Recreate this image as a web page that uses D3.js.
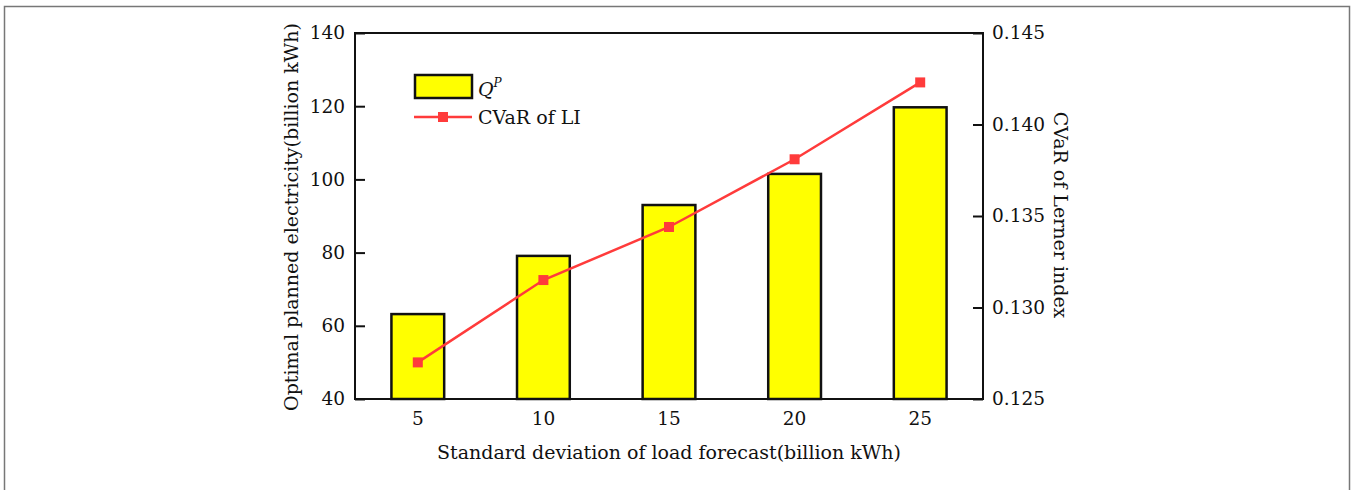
<!DOCTYPE html>
<html>
<head>
<meta charset="utf-8">
<script src="https://cdn.jsdelivr.net/npm/d3@7"></script>
<style>
  html, body { margin: 0; padding: 0; background: #fff; }
  svg text { font-family: "DejaVu Serif", "Liberation Serif", serif; fill: #111; }
</style>
</head>
<body>
<div id="chart"></div>
<script>
// Data
const categories = ['5', '10', '15', '20', '25'];
const plannedQ = [63.2, 79.1, 93.0, 101.5, 119.7];
const cvarLI = [0.1270, 0.1315, 0.1344, 0.1381, 0.1423];
const leftTicks = [40, 60, 80, 100, 120, 140];
const rightTicks = [0.125, 0.130, 0.135, 0.140, 0.145];

const W = 1352, H = 490;
const plot = { left: 355, right: 983, top: 33, bottom: 399 };
const serif = '"DejaVu Serif", "Liberation Serif", serif';

const svg = d3.select('#chart').append('svg')
  .attr('width', W)
  .attr('height', H);

// outer page border
svg.append('rect')
  .attr('x', 4.5).attr('y', 6.5)
  .attr('width', 1345).attr('height', 520)
  .attr('fill', 'none')
  .attr('stroke', '#777')
  .attr('stroke-width', 1.5);

const x = d3.scaleBand().domain(categories).range([plot.left, plot.right]).padding(0);
const yL = d3.scaleLinear().domain([40, 140]).range([plot.bottom, plot.top]);
const yR = d3.scaleLinear().domain([0.125, 0.145]).range([plot.bottom, plot.top]);
const barW = x.bandwidth() * 0.42;
const cx = d => x(d) + x.bandwidth() / 2;

// Bars
svg.append('g')
  .selectAll('rect')
  .data(categories.map((c, i) => ({ c, v: plannedQ[i] })))
  .join('rect')
  .attr('x', d => cx(d.c) - barW / 2)
  .attr('y', d => yL(d.v))
  .attr('width', barW)
  .attr('height', d => yL(40) - yL(d.v))
  .attr('fill', '#ffff00')
  .attr('stroke', '#111')
  .attr('stroke-width', 2.5);

// Frame
svg.append('rect')
  .attr('x', plot.left).attr('y', plot.top)
  .attr('width', plot.right - plot.left)
  .attr('height', plot.bottom - plot.top)
  .attr('fill', 'none')
  .attr('stroke', '#111')
  .attr('stroke-width', 2);

// Left axis (ticks inward)
const axL = svg.append('g')
  .attr('transform', `translate(${plot.left},0)`)
  .call(d3.axisLeft(yL).tickValues(leftTicks).tickSizeInner(-10).tickSizeOuter(0).tickPadding(10));
axL.select('.domain').remove();
axL.selectAll('line').attr('stroke', '#111').attr('stroke-width', 2);
axL.selectAll('text').style('font-size', '18.5px').attr('fill', '#111').attr('font-family', serif);

// Right axis (ticks inward)
const axR = svg.append('g')
  .attr('transform', `translate(${plot.right},0)`)
  .call(d3.axisRight(yR).tickValues(rightTicks).tickFormat(d3.format('.3f'))
    .tickSizeInner(-10).tickSizeOuter(0).tickPadding(9));
axR.select('.domain').remove();
axR.selectAll('line').attr('stroke', '#111').attr('stroke-width', 2);
axR.selectAll('text').style('font-size', '18.5px').attr('fill', '#111').attr('font-family', serif);

// Bottom axis labels
const axB = svg.append('g')
  .attr('transform', `translate(0,${plot.bottom})`)
  .call(d3.axisBottom(x).tickSize(0).tickPadding(13));
axB.select('.domain').remove();
axB.selectAll('text').style('font-size', '18.5px').attr('fill', '#111').attr('font-family', serif);

// Axis titles
svg.append('text')
  .attr('x', 669)
  .attr('y', 459)
  .attr('text-anchor', 'middle')
  .style('font-size', '19px')
  .text('Standard deviation of load forecast(billion kWh)');

svg.append('text')
  .attr('transform', `translate(298,217) rotate(-90)`)
  .attr('text-anchor', 'middle')
  .style('font-size', '19px')
  .text('Optimal planned electricity(billion kWh)');

svg.append('text')
  .attr('transform', `translate(1054,215) rotate(90)`)
  .attr('text-anchor', 'middle')
  .style('font-size', '19px')
  .text('CVaR of Lerner index');

// CVaR line
const line = d3.line().x(d => cx(d.c)).y(d => yR(d.v));
const pts = categories.map((c, i) => ({ c, v: cvarLI[i] }));
svg.append('path')
  .datum(pts)
  .attr('d', line)
  .attr('fill', 'none')
  .attr('stroke', '#ff3b3b')
  .attr('stroke-width', 2.5);
svg.append('g')
  .selectAll('rect')
  .data(pts)
  .join('rect')
  .attr('x', d => cx(d.c) - 5)
  .attr('y', d => yR(d.v) - 5)
  .attr('width', 10).attr('height', 10)
  .attr('fill', '#ff3b3b');

// Legend
const lg = svg.append('g');
lg.append('rect')
  .attr('x', 415).attr('y', 75)
  .attr('width', 57).attr('height', 23)
  .attr('fill', '#ffff00')
  .attr('stroke', '#111')
  .attr('stroke-width', 2.5);
const qt = lg.append('text').attr('x', 478).attr('y', 96).style('font-size', '19px').style('font-style', 'italic');
qt.append('tspan').text('Q');
qt.append('tspan').attr('dy', -9).style('font-size', '12px').text('P');

lg.append('line')
  .attr('x1', 414).attr('x2', 472).attr('y1', 117).attr('y2', 117)
  .attr('stroke', '#ff3b3b').attr('stroke-width', 2.5);
lg.append('rect')
  .attr('x', 438).attr('y', 112).attr('width', 10).attr('height', 10)
  .attr('fill', '#ff3b3b');
lg.append('text').attr('x', 478).attr('y', 124).style('font-size', '19px').text('CVaR of LI');
</script>
</body>
</html>
